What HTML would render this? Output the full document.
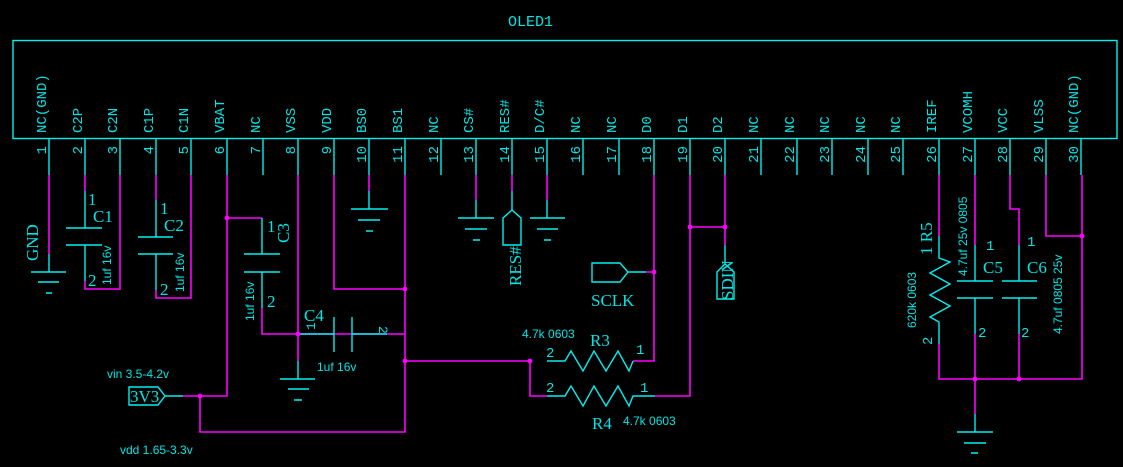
<!DOCTYPE html>
<html><head><meta charset="utf-8"><style>
html,body{margin:0;padding:0;background:#000;width:1123px;height:467px;overflow:hidden}
svg{display:block}
.c{stroke:#00f0f0;fill:none;stroke-width:1.4}
.m{stroke:#ff00ff;fill:none;stroke-width:1.6}
text{fill:#00e5e5;font-family:"Liberation Mono",monospace}
.s{font-family:"Liberation Sans",sans-serif;font-size:12px}
.b{font-size:17px;font-family:"Liberation Serif",serif}
</style></head><body>
<svg id="g" width="1123" height="467" viewBox="0 0 1123 467" xmlns="http://www.w3.org/2000/svg">
<rect x="13" y="40.5" width="1104" height="98" class="c"/>
<text x="508" y="26" font-size="15">OLED1</text>

<!-- Pin1 GND -->
<path class="m" d="M49 175V254"/><path class="c" d="M49 254V272M31 272H66M38 282H59M46 293H52"/>
<text transform="translate(38,261) rotate(-90)" class="b" font-size="16">GND</text>

<!-- C1 -->
<path class="m" d="M85 175V191M85 281V289H120V175"/>
<path class="c" d="M85 191V228M66 228H102M66 245H102M85 245V281"/>
<text x="88" y="205" class="b" font-size="15">1</text><text x="93" y="222" class="b">C1</text>
<text x="88" y="286" class="b" font-size="14">2</text>
<text transform="translate(111,285) rotate(-90)" class="s">1uf 16v</text>
<!-- C2 -->
<path class="m" d="M156 175V200M156 290V298H191V175"/>
<path class="c" d="M156 200V237M138 237H173M138 254H173M156 254V290"/>
<text x="160" y="214" class="b" font-size="15">1</text><text x="164" y="231" class="b">C2</text>
<text x="160" y="295" class="b" font-size="14">2</text>
<text transform="translate(184,292) rotate(-90)" class="s">1uf 16v</text>

<!-- Pin6 / C3 -->
<path class="m" d="M227 175V396H200M227 218H262M262 308V334H405"/>
<path class="c" d="M262 218V254M244 254H280M244 272H280M262 272V308"/>
<text x="267" y="232" class="b" font-size="15">1</text>
<text transform="translate(289,243) rotate(-90)" class="b">C3</text>
<text x="267" y="307" class="b" font-size="14">2</text>
<text transform="translate(254,321) rotate(-90)" class="s">1uf 16v</text>

<!-- Pin8 VSS -->
<path class="m" d="M298 175V361"/><path class="c" d="M298 361V379M280 379H315M288 389H309M294 400H302"/>
<!-- C4 -->
<path class="c" d="M298 334H334M334 317V352M352 317V352M352 334H387"/>
<text x="304" y="321" class="b">C4</text>
<text transform="translate(315,330) rotate(-90)" font-size="13">1</text>
<text transform="translate(379,326) rotate(90)" font-size="13">2</text>
<text x="317" y="371" class="s">1uf 16v</text>

<!-- Pin9 / 11 -->
<path class="m" d="M334 175V289H405M405 175V432H200V396M405 361H530V396H547"/>
<!-- Pin10 gnd -->
<path class="m" d="M369 175V191"/><path class="c" d="M369 191V209M351 209H388M358 220H380M366 231H373"/>

<!-- 3V3 -->
<path class="c" d="M129 387H158L165 396L158 405H129ZM165 396H183"/>
<path class="m" d="M183 396H200"/>
<text x="130" y="402" class="b" font-size="16">3V3</text>
<text x="107" y="378" class="s">vin 3.5-4.2v</text>
<text x="120" y="454" class="s">vdd  1.65-3.3v</text>

<!-- Pin13,15 gnd -->
<path class="m" d="M476 175V200M547 175V200M512 175V191"/>
<path class="c" d="M476 200V218M458 218H494M465 229H487M473 240H480"/>
<path class="c" d="M547 200V218M530 218H565M537 229H558M544 240H551"/>
<!-- RES# -->
<path class="c" d="M512 191V210"/><path class="c" d="M512 210L521 218V245H503V218Z"/>
<text transform="translate(521,286) rotate(-90)" class="b" font-size="15">RES#</text>

<!-- Pin18 SCLK / R3 -->
<path class="m" d="M654 175V361H633M646 272H654"/>
<path class="c" d="M592 263H620L628 272L620 282H592ZM628 272H646"/>
<text x="591" y="306" class="b">SCLK</text>
<path class="c" d="M547 361H565L571 351L583 371L594 351L606 371L618 351L629 371L633 361"/>
<!-- Pin19 / R4 -->
<path class="m" d="M690 175V396H655M690 227H725M725 175V245"/>
<path class="c" d="M547 396H565L571 386L583 406L594 386L606 406L618 386L629 406L633 396H655"/>
<path class="c" d="M725 245V264"/><path class="c" d="M725 264L734 272V299H717V272Z"/>
<text transform="translate(733,300) rotate(-90)" class="b" font-size="15">SDIN</text>
<text x="522" y="338" class="s">4.7k 0603</text>
<text x="590" y="346" class="b">R3</text>
<text x="546" y="357" font-size="14">2</text><text x="636" y="354" font-size="14">1</text>
<text x="546" y="392" font-size="14">2</text><text x="640" y="392" font-size="14">1</text>
<text x="592" y="429" class="b">R4</text>
<text x="623" y="425" class="s">4.7k 0603</text>

<!-- Right side -->
<path class="m" d="M939 175V236M939 344V379H1082V175M975 175V245M975 334V414M1010 175V209H1019V245M1019 334V379M1046 175V236H1082"/>
<path class="c" d="M939 236V258L950 262L930 273L950 284L930 295L950 306L930 317L939 322V344"/>
<path class="c" d="M975 245V281M957 281H993M957 298H993M975 298V334"/>
<path class="c" d="M1019 245V281M1002 281H1037M1002 298H1037M1019 298V334"/>
<path class="c" d="M975 414V432M957 432H993M964 443H986M971 453H978"/>
<text transform="translate(932,255) rotate(-90)" class="b" font-size="15">1 R5</text>
<text transform="translate(932,345) rotate(-90)" font-size="14">2</text>
<text transform="translate(916,328) rotate(-90)" class="s">620k 0603</text>
<text transform="translate(967,276) rotate(-90)" class="s">4.7uf 25v 0805</text>
<text transform="translate(1062,334) rotate(-90)" class="s">4.7uf 0805 25v</text>
<text x="986" y="250" font-size="14">1</text><text x="1027" y="246" font-size="14">1</text>
<text x="983" y="273" class="b">C5</text><text x="1027" y="273" class="b">C6</text>
<text x="978" y="337" font-size="14">2</text><text x="1021" y="337" font-size="14">2</text>

<g id="pins"></g>
<g fill="#ff00ff" id="dots"></g>
</svg>
<script>
var names=["NC(GND)","C2P","C2N","C1P","C1N","VBAT","NC","VSS","VDD","BS0","BS1","NC","CS#","RES#","D/C#","NC","NC","D0","D1","D2","NC","NC","NC","NC","NC","IREF","VCOMH","VCC","VLSS","NC(GND)"];
var P=document.getElementById("pins"),h="";
for(var i=0;i<30;i++){var x=Math.round(49+i*35.6);
h+='<path class="c" d="M'+x+' 138.5V175"/>';
h+='<text font-size="14" transform="translate('+(x-3)+',133) rotate(-90)">'+names[i]+'</text>';
h+='<text font-size="14" text-anchor="end" transform="translate('+(x-3)+',146) rotate(-90)">'+(i+1)+'</text>';}
P.innerHTML=h;
var d=[[227,218],[200,396],[298,334],[405,289],[405,361],[530,361],[654,272],[690,227],[725,227],[975,379],[1019,379],[1082,236]],s="";
d.forEach(function(p){s+='<circle cx="'+p[0]+'" cy="'+p[1]+'" r="2.4"/>';});
document.getElementById("dots").innerHTML=s;
</script>
</body></html>
